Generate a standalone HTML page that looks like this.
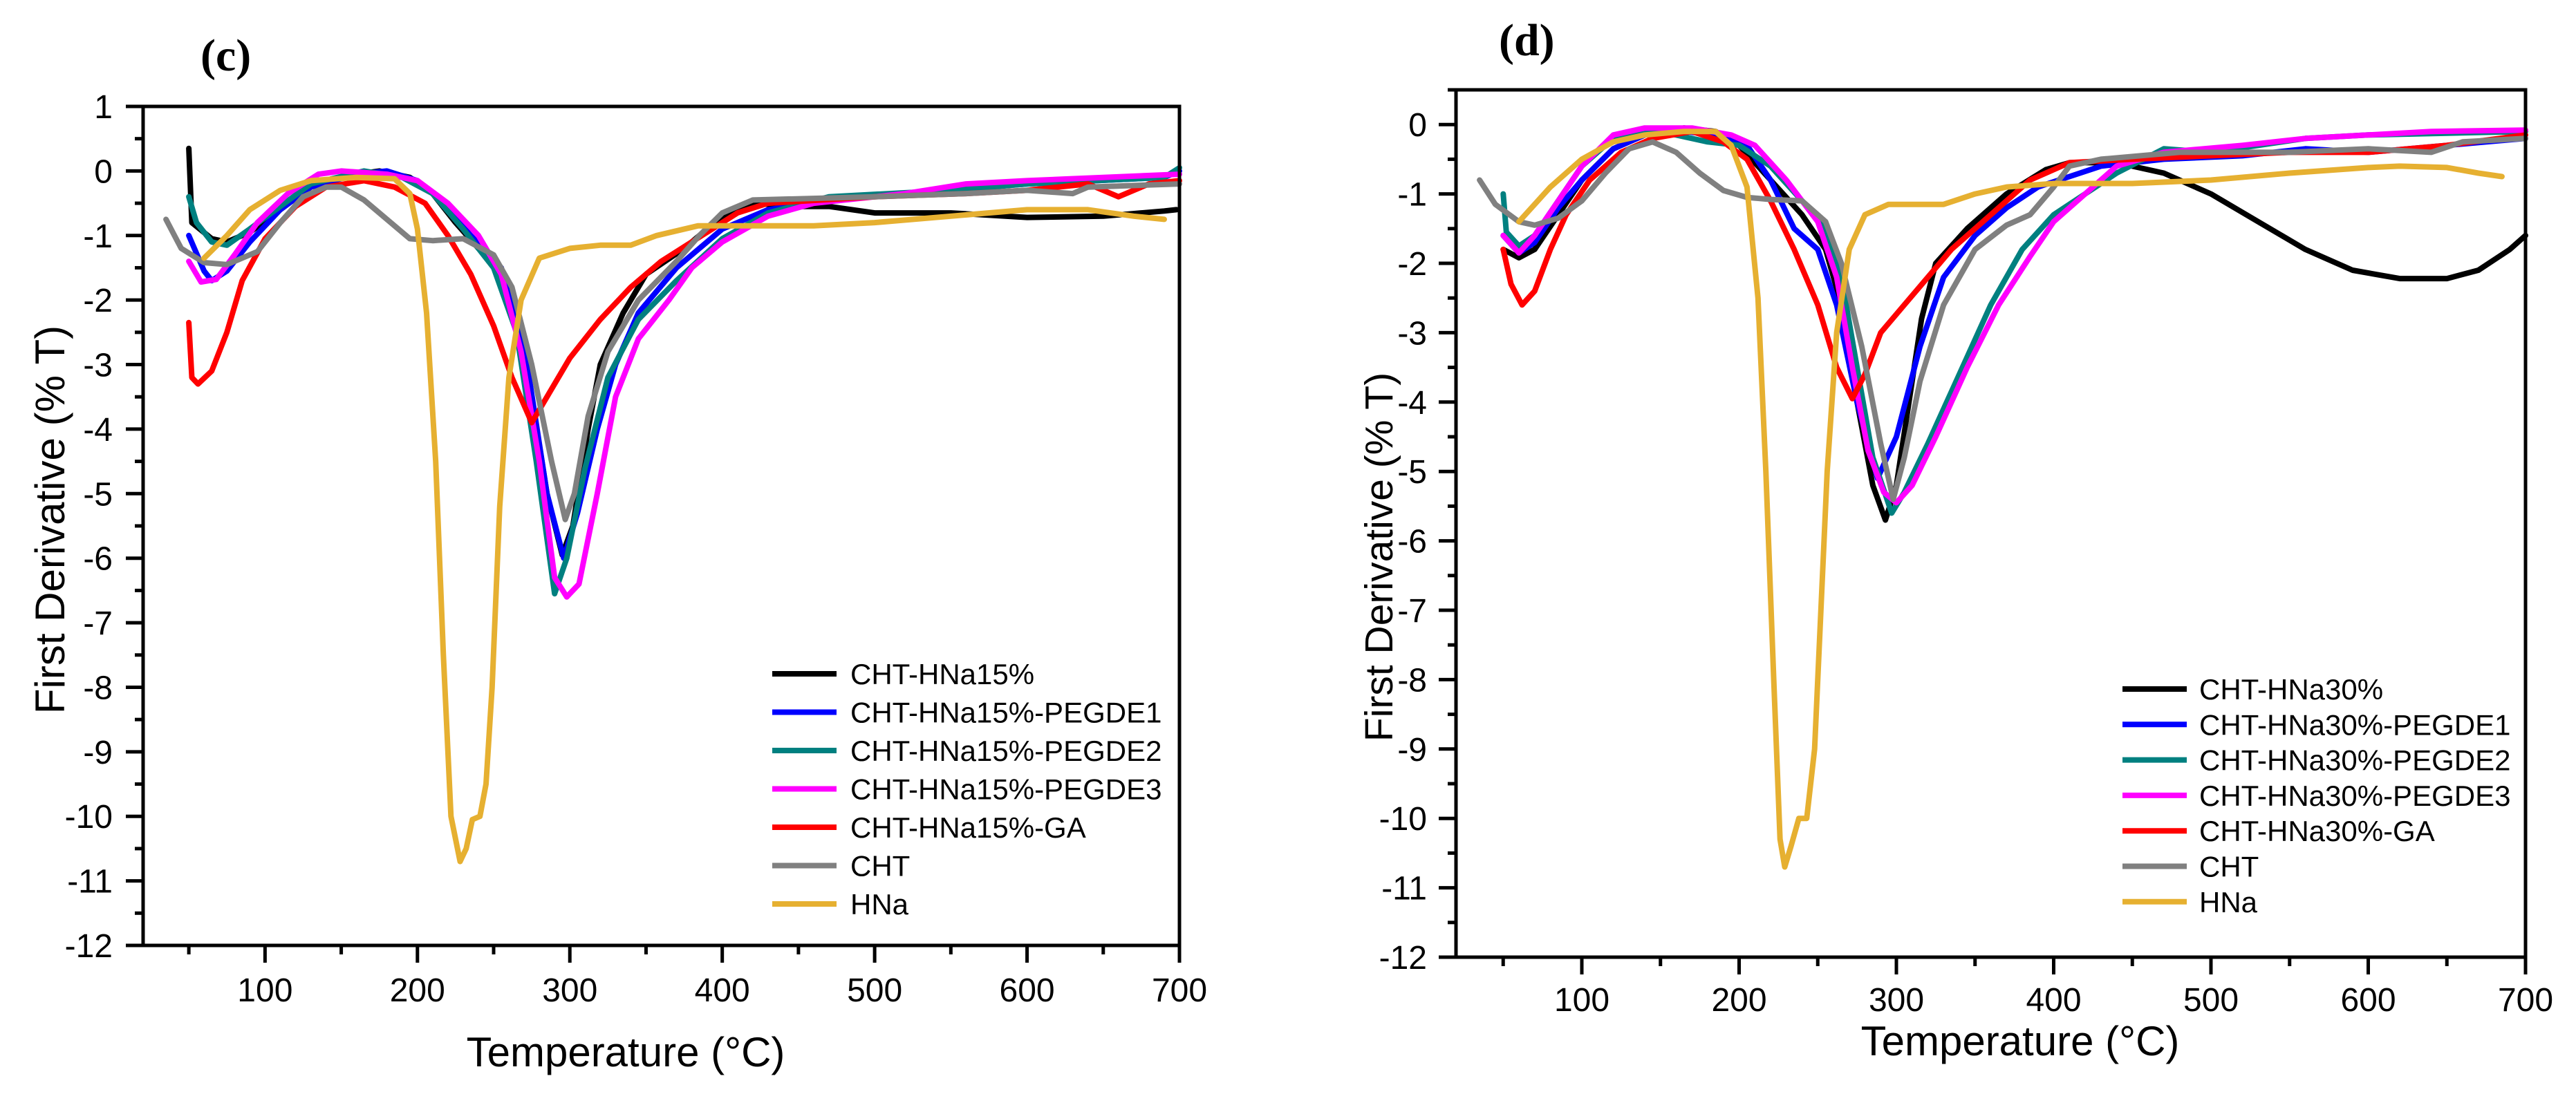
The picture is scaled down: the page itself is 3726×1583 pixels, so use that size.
<!DOCTYPE html>
<html><head><meta charset="utf-8">
<style>
html,body{margin:0;padding:0;background:#fff;}
svg{display:block;font-family:"Liberation Sans",Arial,sans-serif;}
</style></head>
<body>
<svg id="fig" width="3726" height="1583" viewBox="0 0 3726 1583" xmlns="http://www.w3.org/2000/svg"></svg>
<script>
// ---------- data ----------
const seriesNamesC = ["CHT-HNa15%","CHT-HNa15%-PEGDE1","CHT-HNa15%-PEGDE2","CHT-HNa15%-PEGDE3","CHT-HNa15%-GA","CHT","HNa"];
const seriesNamesD = ["CHT-HNa30%","CHT-HNa30%-PEGDE1","CHT-HNa30%-PEGDE2","CHT-HNa30%-PEGDE3","CHT-HNa30%-GA","CHT","HNa"];
const seriesColors = ["#000000","#0000ff","#008080","#ff00ff","#ff0000","#808080","#e6b031"];
const xTicks = [100,200,300,400,500,600,700];
const yTicksC = [1,0,-1,-2,-3,-4,-5,-6,-7,-8,-9,-10,-11,-12];
const yTicksD = [0,-1,-2,-3,-4,-5,-6,-7,-8,-9,-10,-11,-12];

const c_black = [[50,0.35],[52,-0.8],[65,-1.05],[75,-1.1],[90,-0.95],[110,-0.6],[130,-0.25],[160,-0.05],[175,0],[195,-0.1],[210,-0.35],[225,-0.8],[240,-1.2],[255,-1.5],[265,-2.2],[275,-3.5],[285,-5],[295,-5.95],[302,-5.5],[312,-4],[320,-3],[335,-2.2],[350,-1.6],[375,-1.2],[400,-0.7],[420,-0.5],[450,-0.55],[470,-0.55],[500,-0.65],[550,-0.65],[600,-0.72],[650,-0.7],[690,-0.62],[698,-0.6]];
const c_blue = [[50,-1.0],[60,-1.55],[65,-1.7],[75,-1.55],[90,-1.1],[110,-0.6],[130,-0.25],[160,-0.05],[180,0],[200,-0.15],[215,-0.45],[235,-1.0],[255,-1.5],[272,-3],[285,-5],[296,-6],[305,-5.3],[318,-4],[330,-3],[345,-2.2],[370,-1.5],[400,-0.9],[430,-0.6],[470,-0.45],[520,-0.35],[600,-0.2],[690,-0.1],[700,0]];
const c_teal = [[50,-0.4],[55,-0.8],[65,-1.1],[75,-1.15],[90,-0.9],[110,-0.55],[130,-0.2],[165,0],[190,-0.1],[210,-0.35],[230,-0.9],[250,-1.5],[265,-2.5],[278,-4.5],[290,-6.55],[298,-6.0],[310,-4.6],[325,-3.2],[345,-2.3],[370,-1.7],[400,-1.05],[430,-0.65],[470,-0.4],[550,-0.3],[600,-0.2],[690,-0.1],[700,0.05]];
const c_mag = [[50,-1.4],[58,-1.72],[68,-1.68],[80,-1.3],[95,-0.8],[115,-0.35],[135,-0.05],[150,0],[180,-0.05],[200,-0.15],[220,-0.5],[240,-1.0],[255,-1.6],[268,-2.8],[280,-4.5],[290,-6.3],[298,-6.6],[306,-6.4],[318,-5],[330,-3.5],[345,-2.6],[365,-2.0],[380,-1.5],[400,-1.1],[430,-0.7],[460,-0.5],[520,-0.35],[560,-0.2],[600,-0.15],[650,-0.1],[700,-0.05]];
const c_red = [[50,-2.35],[52,-3.2],[56,-3.3],[65,-3.1],[75,-2.5],[85,-1.7],[100,-1.05],[120,-0.55],[140,-0.25],[165,-0.15],[185,-0.25],[205,-0.5],[220,-1.0],[235,-1.6],[250,-2.4],[262,-3.2],[275,-3.9],[285,-3.5],[300,-2.9],[320,-2.3],[340,-1.8],[360,-1.4],[390,-0.95],[410,-0.65],[430,-0.5],[500,-0.4],[560,-0.35],[600,-0.3],[640,-0.2],[660,-0.4],[680,-0.2],[700,-0.15]];
const c_gray = [[35,-0.75],[45,-1.2],[60,-1.42],[75,-1.45],[95,-1.25],[110,-0.8],[125,-0.4],[140,-0.25],[150,-0.25],[165,-0.45],[180,-0.75],[195,-1.05],[210,-1.08],[230,-1.05],[250,-1.3],[262,-1.8],[275,-3.0],[288,-4.5],[297,-5.4],[303,-5.0],[312,-3.8],[325,-2.8],[345,-2.0],[370,-1.4],[385,-1.0],[400,-0.65],[420,-0.45],[500,-0.4],[560,-0.35],[600,-0.3],[630,-0.35],[640,-0.25],[700,-0.2]];
const c_hna = [[60,-1.35],[75,-1.0],[90,-0.6],[110,-0.3],[130,-0.15],[160,-0.1],[185,-0.12],[195,-0.35],[200,-0.9],[206,-2.2],[212,-4.5],[217,-7.5],[222,-10],[228,-10.7],[232,-10.5],[236,-10.05],[241,-10.0],[245,-9.5],[249,-8],[254,-5.2],[260,-3.2],[268,-2.0],[280,-1.35],[300,-1.2],[320,-1.15],[340,-1.15],[357,-1.0],[384,-0.85],[420,-0.85],[460,-0.85],[500,-0.8],[550,-0.7],[600,-0.6],[640,-0.6],[670,-0.7],[690,-0.75]];

const d_black = [[50,-1.8],[60,-1.92],[70,-1.8],[85,-1.3],[100,-0.8],[120,-0.35],[140,-0.15],[165,-0.05],[185,-0.1],[200,-0.3],[220,-0.8],[240,-1.3],[255,-1.8],[265,-2.6],[275,-4],[285,-5.2],[293,-5.7],[300,-5.2],[308,-4],[316,-2.8],[325,-2.0],[345,-1.5],[370,-1.0],[395,-0.65],[410,-0.55],[440,-0.55],[470,-0.7],[500,-1.0],[530,-1.4],[560,-1.8],[590,-2.1],[620,-2.22],[650,-2.22],[670,-2.1],[690,-1.8],[700,-1.6]];
const d_blue = [[50,-1.6],[60,-1.85],[70,-1.7],[85,-1.2],[100,-0.8],[120,-0.35],[140,-0.15],[165,-0.1],[185,-0.15],[205,-0.3],[220,-0.8],[235,-1.5],[250,-1.8],[262,-2.6],[275,-4],[288,-5.1],[292,-4.9],[300,-4.5],[315,-3.2],[330,-2.2],[350,-1.6],[370,-1.2],[390,-0.9],[410,-0.75],[430,-0.6],[470,-0.5],[520,-0.45],[560,-0.35],[600,-0.4],[650,-0.3],[700,-0.2]];
const d_teal = [[50,-1.0],[52,-1.55],[60,-1.75],[70,-1.6],[85,-1.1],[100,-0.6],[120,-0.2],[140,-0.1],[160,-0.15],[180,-0.25],[200,-0.3],[220,-0.6],[240,-1.1],[255,-1.5],[265,-2.2],[275,-3.5],[285,-4.8],[297,-5.6],[305,-5.3],[320,-4.6],[340,-3.6],[360,-2.6],[380,-1.8],[400,-1.3],[420,-1.0],[440,-0.7],[470,-0.35],[500,-0.4],[560,-0.2],[600,-0.15],[700,-0.1]];
const d_mag = [[50,-1.6],[60,-1.85],[70,-1.6],[85,-1.1],[100,-0.6],[120,-0.15],[140,-0.05],[170,-0.05],[195,-0.15],[210,-0.3],[230,-0.8],[250,-1.4],[262,-2.2],[272,-3.5],[282,-4.7],[292,-5.3],[300,-5.45],[310,-5.2],[325,-4.5],[345,-3.5],[365,-2.6],[385,-1.9],[400,-1.4],[420,-1.0],[440,-0.6],[470,-0.4],[520,-0.3],[560,-0.2],[600,-0.15],[640,-0.1],[700,-0.08]];
const d_red = [[50,-1.8],[55,-2.3],[62,-2.6],[70,-2.4],[80,-1.8],[90,-1.3],[105,-0.8],[125,-0.4],[145,-0.2],[170,-0.1],[190,-0.25],[205,-0.5],[220,-1.1],[235,-1.8],[250,-2.6],[262,-3.5],[272,-3.95],[280,-3.6],[290,-3.0],[305,-2.6],[320,-2.2],[335,-1.8],[360,-1.3],[385,-0.8],[410,-0.55],[450,-0.5],[500,-0.45],[550,-0.4],[600,-0.4],[650,-0.3],[700,-0.15]];
const d_gray = [[35,-0.8],[45,-1.15],[60,-1.4],[70,-1.45],[85,-1.35],[100,-1.1],[115,-0.7],[130,-0.35],[145,-0.25],[160,-0.4],[175,-0.7],[190,-0.95],[205,-1.05],[220,-1.08],[240,-1.1],[255,-1.4],[265,-2.0],[278,-3.2],[290,-4.6],[298,-5.4],[305,-4.8],[315,-3.7],[330,-2.6],[350,-1.8],[370,-1.45],[385,-1.3],[400,-0.9],[410,-0.6],[430,-0.5],[480,-0.4],[550,-0.4],[600,-0.35],[640,-0.4],[660,-0.25],[700,-0.2]];
const d_hna = [[60,-1.4],[80,-0.9],[100,-0.5],[120,-0.25],[140,-0.15],[165,-0.1],[185,-0.1],[195,-0.3],[205,-0.9],[212,-2.5],[217,-5],[222,-8],[226,-10.3],[229,-10.7],[233,-10.4],[238,-10.0],[243,-10.0],[248,-9.0],[252,-7],[256,-5],[262,-3],[270,-1.8],[280,-1.3],[295,-1.15],[330,-1.15],[350,-1.0],[370,-0.9],[400,-0.85],[450,-0.85],[500,-0.8],[550,-0.7],[600,-0.62],[620,-0.6],[650,-0.62],[670,-0.7],[685,-0.75]];

const seriesC = [c_black,c_blue,c_teal,c_mag,c_red,c_gray,c_hna];
const seriesD = [d_black,d_blue,d_teal,d_mag,d_red,d_gray,d_hna];

const NS = "http://www.w3.org/2000/svg";
const svg = document.getElementById("fig");
function mk(tag, attrs, parent){
  const e = document.createElementNS(NS, tag);
  for (const k in attrs) e.setAttribute(k, attrs[k]);
  (parent||svg).appendChild(e);
  return e;
}

function drawPanel(p){
  const g = mk("g", {});
  
  
  const sx = v => p.x0 + (v - p.xmin) / (p.xmax - p.xmin) * (p.x1 - p.x0);
  const sy = v => p.y1 - (v - p.ymin) / (p.ymax - p.ymin) * (p.y1 - p.y0);

  p.series.forEach((data, i) => {
    const pts = data.map(d => sx(d[0]).toFixed(1) + "," + sy(d[1]).toFixed(1)).join(" ");
    const pl = mk("polyline", {points: pts, fill: "none", stroke: seriesColors[i], "stroke-width": 8, "stroke-linejoin": "round", "stroke-linecap": "round"}, g);
    
    
  });

  const fr = mk("rect", {x: p.x0, y: p.y0, width: p.x1 - p.x0, height: p.y1 - p.y0, fill: "none", stroke: "#000", "stroke-width": 5}, g);
  
  

  for (let v = 50; v <= p.xmax; v += 50) {
    const major = v % 100 === 0;
    const t = mk("line", {x1: sx(v), x2: sx(v), y1: p.y1, y2: p.y1 + (major ? 25 : 13), stroke: "#000", "stroke-width": 5}, g);
    
    
  }
  xTicks.forEach(v => {
    const t = mk("text", {x: sx(v), y: p.xlabY, "font-size": 48, "text-anchor": "middle", fill: "#000"}, g);
    t.textContent = v;
    
    
  });
  for (let v = p.ymin; v <= p.ymax + 1e-9; v += 0.5) {
    const major = Math.abs(v - Math.round(v)) < 1e-9;
    const t = mk("line", {x1: p.x0 - (major ? 25 : 12), x2: p.x0, y1: sy(v), y2: sy(v), stroke: "#000", "stroke-width": 5}, g);
    
    
  }
  p.yTicks.forEach(v => {
    const t = mk("text", {x: p.ylabX, y: sy(v) + 17, "font-size": 48, "text-anchor": "end", fill: "#000"}, g);
    t.textContent = v;
    
    
  });

  const xt = mk("text", {x: p.xtX, y: p.xtY, "font-size": 60, "text-anchor": "middle", fill: "#000"}, g);
  xt.textContent = "Temperature (°C)";
  
  
  const yt = mk("text", {transform: `translate(${p.ytX},${p.ytY}) rotate(-90)`, "font-size": p.ytF, "text-anchor": "middle", fill: "#000"}, g);
  yt.textContent = "First Derivative (% T)";
  
  

  const pl = mk("text", {x: p.labX, y: p.labY, "font-size": 66, "font-weight": "bold", "font-family": "Liberation Serif, serif", fill: "#000"}, g);
  pl.textContent = p.label;
  
  

  const lg = mk("g", {}, g);
  
  
  p.names.forEach((n, i) => {
    const y = p.legY0 + i * p.legDy;
    const e = mk("g", {}, lg);
    
    
    mk("line", {x1: p.legX1, x2: p.legX2, y1: y, y2: y, stroke: seriesColors[i], "stroke-width": 8}, e);
    const t = mk("text", {x: p.legTX, y: y + 15, "font-size": 42, fill: "#000"}, e);
    t.textContent = n;
  });
}

drawPanel({id:"c", label:"(c)", names:seriesNamesC, series:seriesC, yTicks:yTicksC,
  x0:207, x1:1706, y0:154, y1:1368, xmin:20, xmax:700, ymin:-12, ymax:1,
  xlabY:1449, ylabX:163, xtX:905, xtY:1543, ytX:93, ytY:752, ytF:60,
  labX:290, labY:102, legY0:975, legDy:55.5, legX1:1117, legX2:1210, legTX:1230});
drawPanel({id:"d", label:"(d)", names:seriesNamesD, series:seriesD, yTicks:yTicksD,
  x0:2106, x1:3653, y0:130, y1:1385, xmin:20, xmax:700, ymin:-12, ymax:0.5,
  xlabY:1463, ylabX:2064, xtX:2922, xtY:1527, ytX:2014, ytY:806, ytF:57,
  labX:2168, labY:80, legY0:997, legDy:51.3, legX1:3070, legX2:3163, legTX:3181});
</script>
</body></html>
